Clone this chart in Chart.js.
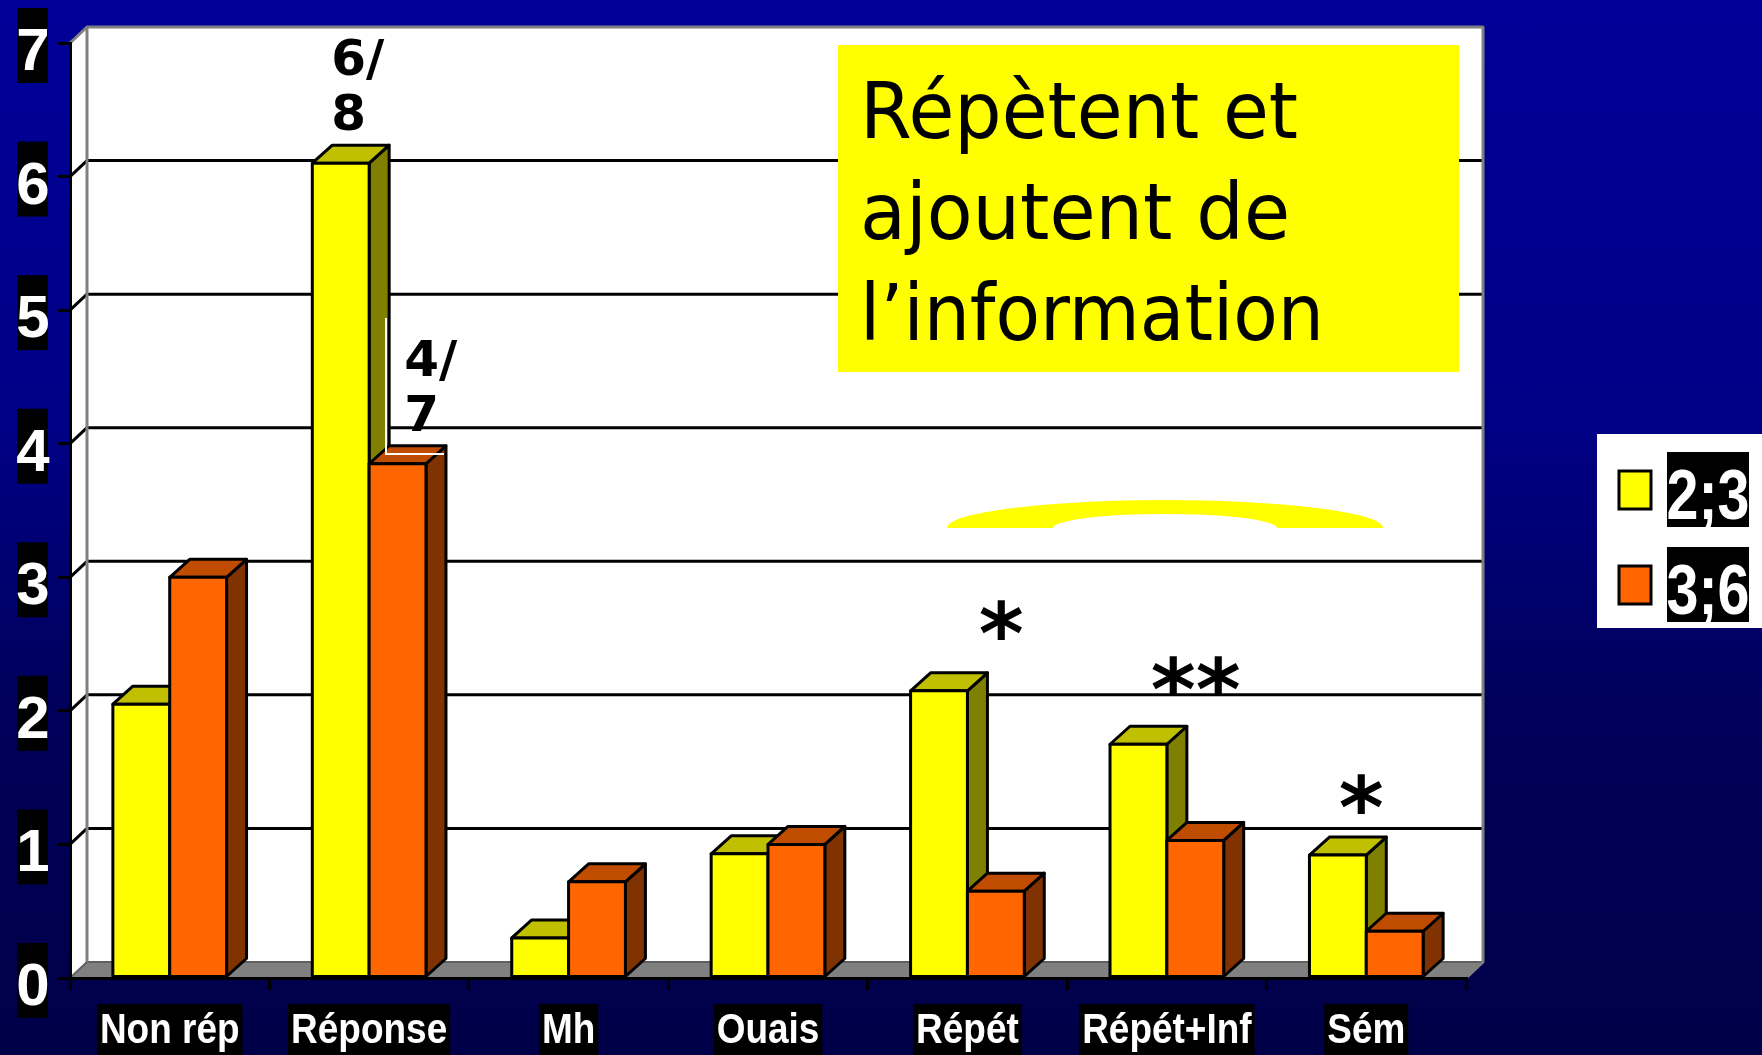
<!DOCTYPE html>
<html>
<head>
<meta charset="utf-8">
<script src="https://cdn.jsdelivr.net/npm/chart.js@4.4.0/dist/chart.umd.min.js"></script>
<style>
  html, body { margin: 0; padding: 0; }
  body {
    width: 1762px; height: 1055px; overflow: hidden;
    background: linear-gradient(#000099 0%, #000086 40%, #00005c 66%, #000048 100%);
  }
</style>
</head>
<body>
<canvas id="myChart" width="1762" height="1055"></canvas>
<script>
'use strict';

// Data
const categories = ['Non rép', 'Réponse', 'Mh', 'Ouais', 'Répét', 'Répét+Inf', 'Sém'];
const seriesNames = ['2;3', '3;6'];
const values23 = [2.05, 6.1, 0.3, 0.93, 2.15, 1.75, 0.92];
const values36 = [3.0, 3.85, 0.72, 1.0, 0.65, 1.03, 0.35];
const yTicks = [0, 1, 2, 3, 4, 5, 6, 7];
// significance marks: text, shift inside category (fraction of a category), value height
const stars = ['', '', '', '', '*', '**', '*'];
const starShift = [0, 0, 0, 0, 0.17, 0.145, -0.025];
const starLevel = [0, 0, 0, 0, 2.68, 2.26, 1.38];
const boxLines = ['Répètent et', 'ajoutent de', 'l\u2019information'];
const ratioNotes = [['6/', '8'], ['4/', '7']];

const sansBold = '"Liberation Sans", Arial, sans-serif';
const frontColors = ['#ffff00', '#ff6600'];
const topColors = ['#c0c000', '#c04c00'];
const sideColors = ['#808000', '#803300'];

function poly(ctx, pts, fill, stroke, lw) {
  ctx.beginPath();
  ctx.moveTo(pts[0][0], pts[0][1]);
  for (let i = 1; i < pts.length; i++) {
    ctx.lineTo(pts[i][0], pts[i][1]);
  }
  ctx.closePath();
  if (fill) {
    ctx.fillStyle = fill;
    ctx.fill();
  }
  if (stroke) {
    ctx.strokeStyle = stroke;
    ctx.lineWidth = lw;
    ctx.stroke();
  }
}

// squeezed text, like a narrow font
function narrowText(ctx, text, x, y, size, squeeze) {
  ctx.save();
  ctx.font = 'bold ' + size + 'px ' + sansBold;
  ctx.textAlign = 'center';
  ctx.textBaseline = 'alphabetic';
  ctx.translate(x, y);
  ctx.scale(squeeze, 1);
  ctx.fillText(text, 0, 0);
  ctx.restore();
}

function narrowWidth(ctx, text, size, squeeze) {
  ctx.save();
  ctx.font = 'bold ' + size + 'px ' + sansBold;
  const w = ctx.measureText(text).width * squeeze;
  ctx.restore();
  return w;
}

// walls, floor and gridlines behind everything
const frame3d = {
  id: 'frame3d',
  beforeDraw(chart) {
    const ctx = chart.ctx;
    const a = chart.chartArea;
    const yScale = chart.scales.y;
    const dx = 17, dy = 16;
    ctx.save();
    ctx.lineJoin = 'round';
    ctx.fillStyle = '#ffffff';
    ctx.fillRect(a.left + dx, a.top - dy, a.right - a.left, a.bottom - a.top);
    poly(ctx, [[a.left, a.top], [a.left + dx, a.top - dy], [a.left + dx, a.bottom - dy], [a.left, a.bottom]], '#ffffff');
    poly(ctx, [[a.left, a.bottom], [a.left + dx, a.bottom - dy], [a.right + dx, a.bottom - dy], [a.right, a.bottom]], '#808080', '#606060', 2);

    ctx.strokeStyle = '#000';
    ctx.lineWidth = 3;
    for (let i = 0; i < yTicks.length; i++) {
      const v = yTicks[i];
      if (v <= 0 || v >= yTicks[yTicks.length - 1]) continue;
      const y = yScale.getPixelForValue(v);
      ctx.beginPath();
      ctx.moveTo(a.left, y);
      ctx.lineTo(a.left + dx, y - dy);
      ctx.lineTo(a.right + dx, y - dy);
      ctx.stroke();
    }

    ctx.strokeStyle = '#808080';
    ctx.lineWidth = 3;
    ctx.beginPath();
    ctx.moveTo(a.left + dx, a.bottom - dy);
    ctx.lineTo(a.left + dx, a.top - dy);
    ctx.lineTo(a.right + dx, a.top - dy);
    ctx.lineTo(a.right + dx, a.bottom - dy);
    ctx.lineTo(a.right, a.bottom);
    ctx.moveTo(a.left, a.top);
    ctx.lineTo(a.left + dx, a.top - dy);
    ctx.stroke();
    ctx.restore();
  }
};

// redraw bars as boxes, left to right
const bars3d = {
  id: 'bars3d',
  afterDatasetsDraw(chart) {
    const ctx = chart.ctx;
    const bx = 20, by = 18;
    ctx.save();
    ctx.lineJoin = 'round';
    for (let j = 0; j < categories.length; j++) {
      for (let i = 0; i < chart.data.datasets.length; i++) {
        const bar = chart.getDatasetMeta(i).data[j];
        const p = bar.getProps(['x', 'y', 'base', 'width'], true);
        const l = p.x - p.width / 2;
        const r = p.x + p.width / 2;
        poly(ctx, [[r, p.y], [r + bx, p.y - by], [r + bx, p.base - by], [r, p.base]], sideColors[i], '#000', 3);
        poly(ctx, [[l, p.y], [l + bx, p.y - by], [r + bx, p.y - by], [r, p.y]], topColors[i], '#000', 3);
        poly(ctx, [[l, p.y], [r, p.y], [r, p.base], [l, p.base]], frontColors[i], '#000', 3);
      }
    }
    ctx.restore();
  }
};

// tick labels on black boxes
const tickBoxes = {
  id: 'tickBoxes',
  afterDraw(chart) {
    const ctx = chart.ctx;
    const xScale = chart.scales.x;
    const yScale = chart.scales.y;
    ctx.save();
    yScale.ticks.forEach((t) => {
      const y = yScale.getPixelForValue(t.value);
      ctx.fillStyle = '#000';
      ctx.fillRect(17, y - 35, 31, 75);
      ctx.fillStyle = '#fff';
      narrowText(ctx, String(t.value), 33, y + 27, 60, 1);
    });
    chart.data.labels.forEach((label, i) => {
      const x = xScale.getPixelForValue(i);
      const w = narrowWidth(ctx, label, 42, 0.88);
      ctx.fillStyle = '#000';
      ctx.fillRect(x - w / 2 - 3, 1004, w + 6, 60);
      ctx.fillStyle = '#fff';
      narrowText(ctx, label, x, 1043, 42, 0.88);
    });
    ctx.restore();
  }
};

// text box, marks, legend
const extras = {
  id: 'extras',
  afterDraw(chart) {
    const ctx = chart.ctx;
    const xScale = chart.scales.x;
    const yScale = chart.scales.y;
    ctx.save();

    // yellow text box
    ctx.fillStyle = '#ffff00';
    ctx.fillRect(838, 45, 621, 327);
    ctx.fillStyle = '#000';
    ctx.font = '78px "DejaVu Sans", sans-serif';
    ctx.textAlign = 'left';
    ctx.textBaseline = 'alphabetic';
    const maxW = [438, 430, 464];
    for (let i = 0; i < boxLines.length; i++) {
      ctx.fillText(boxLines[i], 860, 138 + i * 101, maxW[i]);
    }

    // crescent
    const cx = 1165, cy = 528;
    ctx.beginPath();
    ctx.ellipse(cx, cy, 218, 28, 0, Math.PI, 2 * Math.PI);
    ctx.lineTo(cx + 112, cy);
    ctx.ellipse(cx, cy, 112, 14, 0, 0, Math.PI, true);
    ctx.closePath();
    ctx.fillStyle = '#ffff00';
    ctx.fill();

    // ratio notes over Réponse
    const yBar = chart.getDatasetMeta(0).data[1];
    const oBar = chart.getDatasetMeta(1).data[1];
    ctx.font = 'bold 50px "DejaVu Sans", sans-serif';
    ctx.fillStyle = '#000';
    const notes = [[yBar, 19], [oBar, 35]];
    for (let k = 0; k < notes.length; k++) {
      const b = notes[k][0];
      const left = b.x - b.width / 2 + notes[k][1];
      ctx.fillText(ratioNotes[k][0], left, b.y - 88);
      ctx.fillText(ratioNotes[k][1], left, b.y - 33);
    }
    // white edge of the old text box
    ctx.strokeStyle = '#ffffff';
    ctx.lineWidth = 2;
    ctx.beginPath();
    ctx.moveTo(386, 318);
    ctx.lineTo(386, 454);
    ctx.lineTo(444, 454);
    ctx.stroke();

    // significance stars
    ctx.font = 'bold 86px "DejaVu Sans", sans-serif';
    ctx.textAlign = 'center';
    const m = ctx.measureText('*');
    const mid = (m.actualBoundingBoxAscent - m.actualBoundingBoxDescent) / 2;
    const catW = xScale.getPixelForValue(1) - xScale.getPixelForValue(0);
    for (let j = 0; j < stars.length; j++) {
      if (!stars[j]) continue;
      const x = xScale.getPixelForValue(j) + starShift[j] * catW;
      const y = yScale.getPixelForValue(starLevel[j]);
      ctx.fillText(stars[j], x, y + mid);
    }

    // legend
    ctx.fillStyle = '#ffffff';
    ctx.fillRect(1597, 434, 170, 194);
    for (let i = 0; i < chart.data.datasets.length; i++) {
      const top = 452 + i * 95;
      ctx.fillStyle = chart.data.datasets[i].backgroundColor;
      ctx.fillRect(1619, top + 19, 32, 38);
      ctx.strokeStyle = '#000';
      ctx.lineWidth = 3;
      ctx.strokeRect(1619, top + 19, 32, 38);
      ctx.fillStyle = '#000';
      ctx.fillRect(1667, top, 82, 75);
      ctx.fillStyle = '#fff';
      narrowText(ctx, seriesNames[i], 1708, top + 67, 70, 0.82);
    }
    ctx.restore();
  }
};

const ctx = document.getElementById('myChart');

const config = {
  type: 'bar',
  data: {
    labels: categories,
    datasets: [
      {
        label: seriesNames[0],
        data: values23,
        backgroundColor: frontColors[0],
        borderColor: '#000',
        borderWidth: 3,
        borderSkipped: false
      },
      {
        label: seriesNames[1],
        data: values36,
        backgroundColor: frontColors[1],
        borderColor: '#000',
        borderWidth: 3,
        borderSkipped: false
      }
    ]
  },
  options: {
    responsive: false,
    animation: false,
    devicePixelRatio: 1,
    categoryPercentage: 0.57,
    barPercentage: 1.0,
    layout: {
      padding: { top: 43, right: 296, left: 0, bottom: 0 }
    },
    plugins: {
      legend: { display: false },
      tooltip: { enabled: false }
    },
    scales: {
      x: {
        afterFit: (scale) => { scale.height = 77; },
        grid: {
          drawOnChartArea: false,
          drawTicks: true,
          tickLength: 12,
          color: '#000',
          lineWidth: 3
        },
        border: { display: true, color: '#000', width: 3 },
        ticks: { display: false, autoSkip: false, maxRotation: 0 }
      },
      y: {
        min: 0,
        max: 7,
        afterFit: (scale) => { scale.width = 70; },
        afterBuildTicks: (scale) => { scale.ticks = yTicks.map(v => ({ value: v })); },
        grid: {
          drawOnChartArea: false,
          drawTicks: true,
          tickLength: 12,
          color: '#000',
          lineWidth: 3
        },
        border: { display: true, color: '#000', width: 3 },
        ticks: { display: false }
      }
    }
  },
  plugins: [frame3d, bars3d, tickBoxes, extras]
};

let chart = new Chart(ctx, config);
</script>
</body>
</html>
